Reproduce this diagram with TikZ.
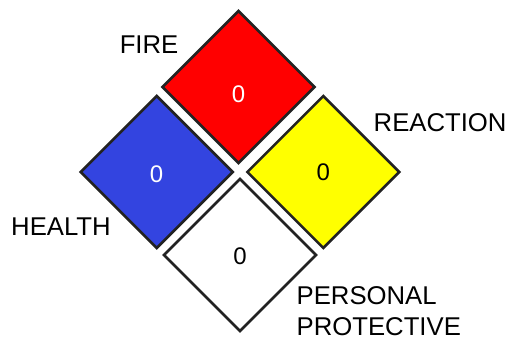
\documentclass[tikz,border=0pt]{standalone}
\usepackage{fontspec}
\setmainfont{Liberation Sans}
\usetikzlibrary{shapes.geometric}
\definecolor{nfpaBlue}{RGB}{51,68,224}
\definecolor{nfpaRed}{RGB}{255,0,0}
\definecolor{nfpaYellow}{RGB}{255,255,0}
\definecolor{edgeGray}{RGB}{34,34,34}
\tikzset{
  panel/.style={shape=diamond, aspect=1, minimum width=153pt, minimum height=153pt,
    inner sep=0pt, draw=edgeGray, line width=2.6pt, line join=miter},
  digit/.style={font=\fontsize{24}{28}\selectfont, inner sep=0pt},
  caption/.style={font=\fontsize{25.7}{30}\selectfont, inner sep=0pt, text=black}
}
\begin{document}
\begin{tikzpicture}[x=1pt,y=-1pt]
\useasboundingbox (0,0) rectangle (511,337);
\fill[white] (0,0) rectangle (511,337);
\node[panel, fill=nfpaRed] (fire) at (238.5,87) {};
\node[panel, fill=nfpaBlue] (health) at (156.7,172) {};
\node[panel, fill=nfpaYellow] (react) at (323.3,172) {};
\node[panel, fill=white] (spec) at (240,255) {};
\node[digit, text=white] (d1) at (238.5,94.5) {0};
\node[digit, text=white] (d2) at (156.5,174) {0};
\node[digit, text=black] (d3) at (323.3,172.5) {0};
\node[digit, text=black] (d4) at (240,256) {0};
\node[caption, anchor=base east] (lfire) at (178.5,53.5) {FIRE};
\node[caption, anchor=base west] (lreact) at (373.5,131) {REACTION};
\node[caption, anchor=base west] (lhealth) at (11,235) {HEALTH};
\node[caption, anchor=base west] (lpers1) at (296.5,304.5) {PERSONAL};
\node[caption, anchor=base west] (lpers2) at (296.5,335.5) {PROTECTIVE};
\end{tikzpicture}
\end{document}
